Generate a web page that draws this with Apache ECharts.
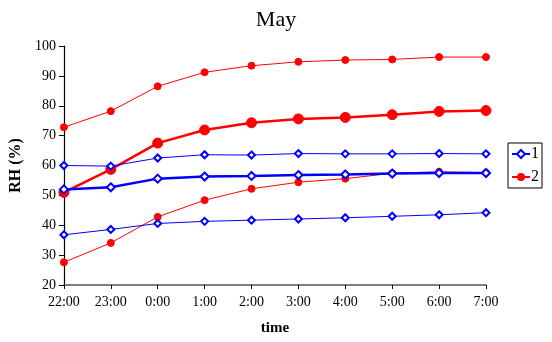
<!DOCTYPE html>
<html><head><meta charset="utf-8">
<script src="https://cdn.jsdelivr.net/npm/echarts@6/dist/echarts.min.js"></script>
<style>html,body{margin:0;padding:0;background:#fff}#c{width:552px;height:342px}</style>
</head><body><div id="c"></div>
<script>
const categories = ['22:00','23:00','0:00','1:00','2:00','3:00','4:00','5:00','6:00','7:00'];
const blueTop    = [60, 59.8, 62.5, 63.6, 63.5, 64, 63.9, 63.9, 64, 63.9];
const blueMid    = [52, 52.7, 55.6, 56.3, 56.5, 56.8, 57, 57.3, 57.5, 57.5];
const blueLow    = [36.8, 38.6, 40.6, 41.3, 41.7, 42.1, 42.5, 43, 43.5, 44.2];
const redTop     = [72.8, 78.2, 86.5, 91.2, 93.4, 94.7, 95.3, 95.5, 96.3, 96.3];
const redMid     = [51, 58.7, 67.5, 71.9, 74.3, 75.6, 76.1, 77, 78.1, 78.4];
const redLow     = [27.6, 34.1, 42.8, 48.4, 52.2, 54.4, 55.6, 57.4, 57.9, 57.6];
const yTicks = {min: 20, max: 100, interval: 10};

const FONT = 'Liberation Serif';
const BLUE = '#0000FF', RED = '#FF0000';
function blue(data, w){
  return {name:'1', type:'line', data, symbol:'emptyDiamond', symbolSize: w>1.5?8:7,
    lineStyle:{color:BLUE, width:w}, itemStyle:{color:BLUE, borderColor:BLUE, borderWidth:1.3}, z: 3};
}
function red(data, w){
  return {name:'2', type:'line', data, symbol:'circle', symbolSize: w>1.5?10:7,
    lineStyle:{color:RED, width:w}, itemStyle:{color:RED, borderColor:RED}, z: 2};
}
const chart = echarts.init(document.getElementById('c'), null, {renderer:'canvas'});
chart.setOption({
  animation:false,
  textStyle:{fontFamily:FONT},
  title:{text:'May', left:'center', top:4, textStyle:{fontFamily:FONT, fontSize:22, fontWeight:'normal', color:'#000'}},
  grid:{left:63, right:66, top:46, bottom:57, containLabel:false},
  legend:{
    orient:'vertical', left:508, top:143, itemWidth:18, itemHeight:10, itemGap:7,
    padding:[3,3,3,3], borderColor:'#000', borderWidth:1,
    textStyle:{fontFamily:FONT, fontSize:16, color:'#000', padding:[0,0,0,-4]},
    data:[{name:'1'},{name:'2'}]
  },
  xAxis:{
    type:'category', data:categories, boundaryGap:false,
    name:'time', nameLocation:'middle', nameGap:36,
    nameTextStyle:{fontFamily:FONT, fontSize:15, fontWeight:'bold', color:'#000'},
    axisLine:{lineStyle:{color:'#555', width:1.5}},
    axisTick:{show:true, inside:false, length:4, lineStyle:{color:'#000'}},
    axisLabel:{fontFamily:FONT, fontSize:14, color:'#000', margin:10},
    splitLine:{show:false}
  },
  yAxis:{
    type:'value', min:yTicks.min, max:yTicks.max, interval:yTicks.interval,
    name:'RH (%)', nameLocation:'middle', nameGap:36, nameRotate:90,
    nameTextStyle:{fontFamily:FONT, fontSize:16, fontWeight:'bold', color:'#000'},
    axisLine:{show:true, lineStyle:{color:'#000', width:1.2}},
    axisTick:{show:true, inside:false, length:5, lineStyle:{color:'#000'}},
    axisLabel:{fontFamily:FONT, fontSize:14, color:'#000', margin:8},
    splitLine:{show:false}
  },
  series:[
    red(redTop,1), red(redMid,2.5), red(redLow,1),
    blue(blueTop,1), blue(blueMid,2.5), blue(blueLow,1)
  ]
});
</script></body></html>
